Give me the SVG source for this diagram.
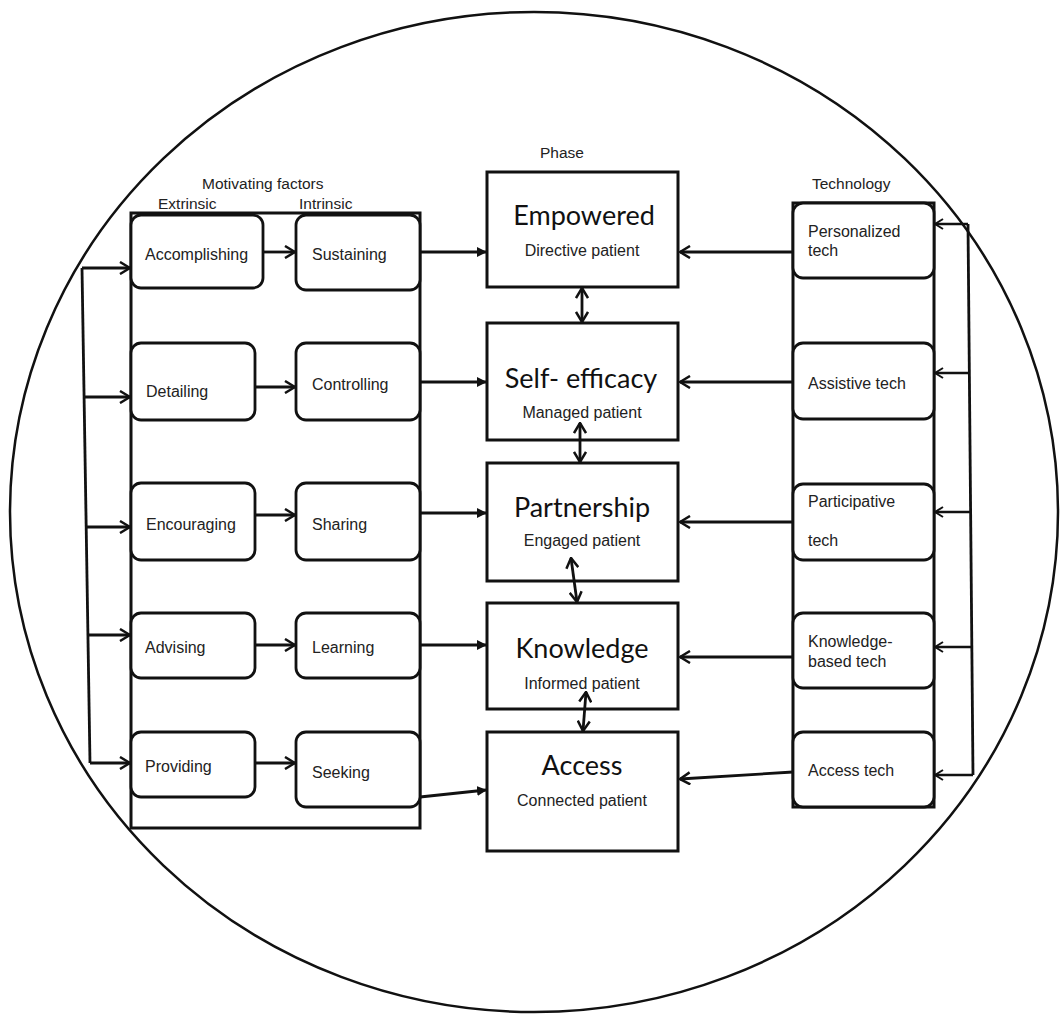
<svg xmlns="http://www.w3.org/2000/svg" width="1063" height="1016" viewBox="0 0 1063 1016">
  <style>
    .frame { fill: none; stroke: #111; stroke-width: 3; }
    .box { fill: #fff; stroke: #111; stroke-width: 2.8; }
    .phase { fill: #fff; stroke: #111; stroke-width: 3; }
    .lbl { font-family: "Liberation Sans", Arial, sans-serif; font-size: 16px; fill: #222; }
    .hdr { font-family: "Liberation Sans", Arial, sans-serif; font-size: 15.5px; fill: #222; }
    .title { font-family: Lato, "Open Sans", sans-serif; font-size: 27px; fill: #111; text-anchor: middle; }
    .sub { font-family: "Liberation Sans", Arial, sans-serif; font-size: 16px; fill: #222; text-anchor: middle; }
    .wire { fill: none; stroke: #111; stroke-width: 2.8; }
    .thin { fill: none; stroke: #111; stroke-width: 2.4; }
  </style>
  <defs>
    <marker id="chev" viewBox="0 0 12 14" refX="11" refY="7" markerWidth="12" markerHeight="14" markerUnits="userSpaceOnUse" orient="auto-start-reverse">
      <path d="M1,1 L11,7 L1,13" fill="none" stroke="#111" stroke-width="2.5"/>
    </marker>
    <marker id="small" viewBox="0 0 10 12" refX="9" refY="6" markerWidth="10" markerHeight="12" markerUnits="userSpaceOnUse" orient="auto">
      <path d="M1,1 L9,6 L1,11" fill="none" stroke="#111" stroke-width="2"/>
    </marker>
    <marker id="solid" viewBox="0 0 10 12" refX="9" refY="6" markerWidth="10" markerHeight="12" markerUnits="userSpaceOnUse" orient="auto">
      <path d="M0,1 L10,6 L0,11 z" fill="#111"/>
    </marker>
  </defs>

  <rect width="1063" height="1016" fill="#fff"/>

  <!-- enclosing ellipse -->
  <ellipse id="outline" cx="534" cy="512" rx="524" ry="500" fill="none" stroke="#111" stroke-width="2.5"/>

  <!-- column headings -->
  <text class="hdr" x="202" y="189">Motivating factors</text>
  <text class="hdr" x="158" y="209">Extrinsic</text>
  <text class="hdr" x="299" y="209">Intrinsic</text>
  <text class="hdr" x="540" y="158">Phase</text>
  <text class="hdr" x="812" y="189">Technology</text>

  <!-- group frames -->
  <rect id="motivating-frame" class="frame" x="131" y="213" width="289" height="615"/>
  <rect id="technology-frame" class="frame" x="793" y="203" width="141" height="604"/>

  <!-- extrinsic factors -->
  <g id="accomplishing"><rect class="box" x="131" y="215" width="132" height="73" rx="10"/><text class="lbl" x="145" y="260">Accomplishing</text></g>
  <g id="detailing"><rect class="box" x="131" y="343" width="124" height="77" rx="10"/><text class="lbl" x="146" y="397">Detailing</text></g>
  <g id="encouraging"><rect class="box" x="131" y="483" width="124" height="77" rx="10"/><text class="lbl" x="146" y="530">Encouraging</text></g>
  <g id="advising"><rect class="box" x="131" y="613" width="124" height="65" rx="10"/><text class="lbl" x="145" y="653">Advising</text></g>
  <g id="providing"><rect class="box" x="131" y="732" width="124" height="65" rx="10"/><text class="lbl" x="145" y="772">Providing</text></g>

  <!-- intrinsic factors -->
  <g id="sustaining"><rect class="box" x="296" y="215" width="124" height="75" rx="10"/><text class="lbl" x="312" y="260">Sustaining</text></g>
  <g id="controlling"><rect class="box" x="296" y="343" width="124" height="77" rx="10"/><text class="lbl" x="312" y="390">Controlling</text></g>
  <g id="sharing"><rect class="box" x="296" y="483" width="124" height="77" rx="10"/><text class="lbl" x="312" y="530">Sharing</text></g>
  <g id="learning"><rect class="box" x="296" y="613" width="124" height="65" rx="10"/><text class="lbl" x="312" y="653">Learning</text></g>
  <g id="seeking"><rect class="box" x="296" y="732" width="124" height="75" rx="10"/><text class="lbl" x="312" y="778">Seeking</text></g>

  <!-- phases -->
  <g id="empowered"><rect class="phase" x="487" y="172" width="191" height="115"/><text class="title" x="584" y="225">Empowered</text><text class="sub" x="582" y="256">Directive patient</text></g>
  <g id="self-efficacy"><rect class="phase" x="487" y="323" width="191" height="117"/><text class="title" x="581" y="388">Self- efficacy</text><text class="sub" x="582" y="418">Managed patient</text></g>
  <g id="partnership"><rect class="phase" x="487" y="463" width="191" height="118"/><text class="title" x="582" y="517">Partnership</text><text class="sub" x="582" y="546">Engaged patient</text></g>
  <g id="knowledge"><rect class="phase" x="487" y="603" width="191" height="106"/><text class="title" x="582" y="658">Knowledge</text><text class="sub" x="582" y="689">Informed patient</text></g>
  <g id="access"><rect class="phase" x="487" y="732" width="191" height="119"/><text class="title" x="582" y="775">Access</text><text class="sub" x="582" y="806">Connected patient</text></g>

  <!-- technologies -->
  <g id="personalized-tech"><rect class="box" x="793" y="203" width="141" height="75" rx="10"/><text class="lbl" x="808" y="237">Personalized</text><text class="lbl" x="808" y="256">tech</text></g>
  <g id="assistive-tech"><rect class="box" x="793" y="343" width="141" height="76" rx="10"/><text class="lbl" x="808" y="389">Assistive tech</text></g>
  <g id="participative-tech"><rect class="box" x="793" y="484" width="141" height="76" rx="10"/><text class="lbl" x="808" y="507">Participative</text><text class="lbl" x="808" y="546">tech</text></g>
  <g id="knowledge-based-tech"><rect class="box" x="793" y="613" width="141" height="75" rx="10"/><text class="lbl" x="808" y="647">Knowledge-</text><text class="lbl" x="808" y="667">based tech</text></g>
  <g id="access-tech"><rect class="box" x="793" y="732" width="141" height="75" rx="10"/><text class="lbl" x="808" y="776">Access tech</text></g>

  <g id="connectors">
    <!-- left bus feeding extrinsic factors -->
    <path class="wire" d="M82,268 L90,763"/>
    <path class="wire" d="M82,268 H130" marker-end="url(#chev)"/>
    <path class="wire" d="M83,397 H130" marker-end="url(#chev)"/>
    <path class="wire" d="M85,527 H130" marker-end="url(#chev)"/>
    <path class="wire" d="M87,635 H130" marker-end="url(#chev)"/>
    <path class="wire" d="M90,763 H130" marker-end="url(#chev)"/>

    <!-- extrinsic to intrinsic -->
    <path class="wire" d="M263,252 H295" marker-end="url(#chev)"/>
    <path class="wire" d="M255,387 H295" marker-end="url(#chev)"/>
    <path class="wire" d="M255,515 H295" marker-end="url(#chev)"/>
    <path class="wire" d="M255,645 H295" marker-end="url(#chev)"/>
    <path class="wire" d="M255,763 H295" marker-end="url(#chev)"/>

    <!-- intrinsic to phase -->
    <path class="wire" d="M420,252 H486" marker-end="url(#solid)"/>
    <path class="wire" d="M420,382 H486" marker-end="url(#solid)"/>
    <path class="wire" d="M420,513 H486" marker-end="url(#solid)"/>
    <path class="wire" d="M420,645 H486" marker-end="url(#solid)"/>
    <path class="wire" d="M420,797 L486,790" marker-end="url(#solid)"/>

    <!-- between phases -->
    <path class="wire" d="M582,288 V322" marker-start="url(#chev)" marker-end="url(#chev)"/>
    <path class="wire" d="M580,423 V462" marker-start="url(#chev)" marker-end="url(#chev)"/>
    <path class="wire" d="M571,558 L577,602" marker-start="url(#chev)" marker-end="url(#chev)"/>
    <path class="wire" d="M586,692 L583,731" marker-start="url(#chev)" marker-end="url(#chev)"/>

    <!-- technology to phase -->
    <path class="wire" d="M793,252 H680" marker-end="url(#chev)"/>
    <path class="wire" d="M793,382 H680" marker-end="url(#chev)"/>
    <path class="wire" d="M793,522 H680" marker-end="url(#chev)"/>
    <path class="wire" d="M793,657 H680" marker-end="url(#chev)"/>
    <path class="wire" d="M793,772 L680,779" marker-end="url(#chev)"/>

    <!-- right bus feeding technologies -->
    <path class="wire" d="M968,224 L973,775"/>
    <path class="thin" d="M968,224 H935" marker-end="url(#small)"/>
    <path class="thin" d="M970,373 H935" marker-end="url(#small)"/>
    <path class="thin" d="M971,512 H935" marker-end="url(#small)"/>
    <path class="thin" d="M972,647 H935" marker-end="url(#small)"/>
    <path class="thin" d="M973,775 H935" marker-end="url(#small)"/>
  </g>
</svg>
